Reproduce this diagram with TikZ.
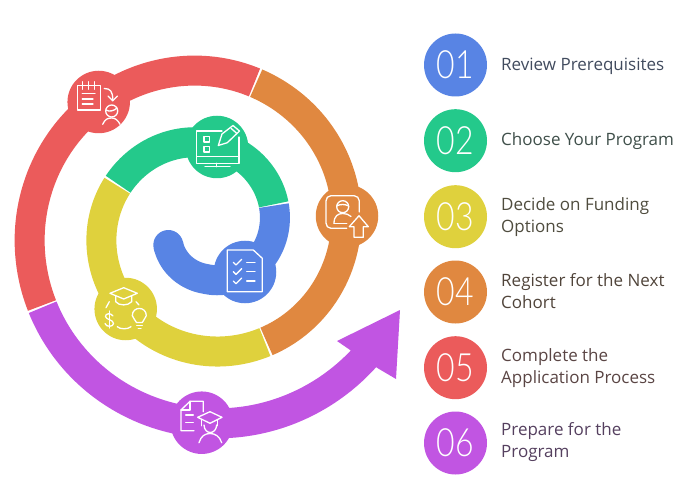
\documentclass[tikz,border=0pt]{standalone}
\usepackage{fontspec}
\setmainfont{Open Sans}
\newfontfamily\numfont[FakeStretch=0.82]{Lato Light}
\definecolor{stepblue}{HTML}{5884E4}
\definecolor{stepgreen}{HTML}{24C98B}
\definecolor{stepyellow}{HTML}{DFD13D}
\definecolor{steporange}{HTML}{E08840}
\definecolor{stepred}{HTML}{EB5B5B}
\definecolor{steppurple}{HTML}{C155E2}
\definecolor{textblue}{HTML}{414B5E}
\definecolor{textgreen}{HTML}{3F4F4A}
\definecolor{textyellow}{HTML}{4F4C3E}
\definecolor{textorange}{HTML}{50443A}
\definecolor{textred}{HTML}{5A4544}
\definecolor{textpurple}{HTML}{55405F}

\begin{document}
\begin{tikzpicture}[
		x=1pt, y=-1pt,
		declare function={sx(\t)=206+(68+.2*\t)*cos(\t); sy(\t)=229-(68+.2*\t)*sin(\t);
			hx(\t)=206+(68+.2*\t+.065*max(0,-90-\t))*cos(\t); hy(\t)=229-(68+.2*\t+.065*max(0,-90-\t))*sin(\t);},
		band/.style={line width=30pt, samples=70, smooth},
		badge/.style={circle, minimum size=62.5pt, inner sep=0pt},
		numdot/.style={circle, minimum size=63pt, inner sep=0pt, text=white, font=\numfont\fontsize{39}{39}\selectfont},
		steplabel/.style={anchor=west, align=left, inner sep=0pt, font=\fontsize{17}{22}\selectfont},
		icon/.style={draw=white, line width=1.3pt, line join=round, line cap=round}
	]

	\useasboundingbox (0,0) rectangle (692,502);

	\draw[band, stepblue, domain=-157:19] plot ({hx(\x)},{hy(\x)});
	\fill[stepblue] ({hx(-157)},{hy(-157)}) circle (15);
	\draw[band, stepgreen, domain=20:153] plot ({sx(\x)},{sy(\x)});
	\draw[band, stepyellow, domain=154:297.5] plot ({sx(\x)},{sy(\x)});
	\draw[band, steporange, domain=298.3:431] plot ({sx(\x)},{sy(\x)});
	\draw[band, stepred, domain=431.7:565] plot ({sx(\x)},{sy(\x)});
	\draw[band, steppurple, domain=565.6:682] plot ({sx(\x)},{sy(\x)});
	\fill[steppurple] (353,352) -- (337,341) -- (400,310) -- (396,379) -- (379,369) -- cycle;

	\node[badge, fill=stepblue] (iconblue) at (245,272) {};
	\node[badge, fill=stepgreen] (icongreen) at (217,147) {};
	\node[badge, fill=stepyellow] (iconyellow) at (125.7,309) {};
	\node[badge, fill=steporange] (iconorange) at (347,216) {};
	\node[badge, fill=stepred] (iconred) at (98.7,102) {};
	\node[badge, fill=steppurple] (iconpurple) at (201.7,422.7) {};

	\draw[icon] (227.3,250) -- (253.3,250) -- (262.3,258.3) -- (262.3,291.7) -- (227.3,291.7) -- cycle;
	\draw[icon] (233.3,262.3) -- (236,265) -- (241.7,259.3);
	\draw[icon] (233.3,271.7) -- (236,274.4) -- (241.7,268.7);
	\draw[icon] (233.3,281) -- (236,283.7) -- (241.7,278);
	\draw[icon] (246.7,262.3) -- (255,262.3);
	\draw[icon] (246.7,271.7) -- (255,271.7);
	\draw[icon] (246.7,281) -- (255,281);

	\draw[icon] (222,131) -- (196.7,131) -- (196.7,163.3) -- (239,163.3) -- (239,137);
	\draw[icon] (196.7,156.7) -- (239,156.7);
	\draw[icon] (216.7,163.3) -- (216.7,166.7);
	\draw[icon] (205,166.7) -- (230,166.7);
	\draw[icon] (204,136.7) rectangle (209.3,142);
	\draw[icon] (204,146.7) rectangle (209.3,152);
	\draw[icon] (218.3,145.5) -- (222,134) -- (233,125.5) -- (239.5,131) -- (227.3,142.7) -- cycle;
	\draw[icon] (231,128.3) -- (236.7,133.3);

	\draw[icon] (110,293.3) -- (123.7,287.7) -- (137.3,293.3) -- (123.7,299) -- cycle;
	\draw[icon] (115.7,296) -- (115.7,301.7) .. controls (119,306) and (128,306) .. (131.7,301.7) -- (131.7,296);
	\draw[icon] (106,307.7) -- (109.3,301.7);
	\draw[icon] (136,301.7) -- (139,305);
	\draw[icon] (113,316) .. controls (111,312.5) and (105,313.5) .. (105.5,316.5) .. controls (106,320) and (113.5,319.5) .. (113.5,323.5) .. controls (113.5,327) and (106,327.5) .. (105,323.5);
	\draw[icon] (109.3,311) -- (109.3,328);
	\draw[icon] (117.3,326.7) .. controls (120,329.5) and (128,329.5) .. (131,326.7);
	\draw[icon] (136.5,322.5) .. controls (136,319) and (132.3,319) .. (132.3,315.7) .. controls (132.3,306) and (146.3,306) .. (146.3,315.7) .. controls (146.3,319) and (142.6,319) .. (142.3,322.5) -- cycle;
	\draw[icon] (136.7,325.7) -- (142.3,325.7);
	\draw[icon] (138.3,328.3) -- (141,328.3);

	\draw[icon] (346.7,228.3) -- (331,228.3) .. controls (328,228.3) and (326,226) .. (326,223) -- (326,201) .. controls (326,198) and (328,195.7) .. (331,195.7) -- (354,195.7) .. controls (357,195.7) and (359.3,198) .. (359.3,201) -- (359.3,212);
	\draw[icon] (342.7,206.7) circle (6);
	\draw[icon] (336.7,206) .. controls (340,204) and (345,204) .. (348.7,206);
	\draw[icon] (334,223.3) .. controls (334,216) and (338,213.5) .. (342.7,213.5) .. controls (346,213.5) and (349,214.5) .. (351,216.5);
	\draw[icon] (334,223.3) -- (346.7,223.3);
	\draw[icon] (359,215.7) -- (349.3,226.7) -- (354,226.7) -- (354,237.3) -- (363.3,237.3) -- (363.3,226.7) -- (368.3,226.7) -- cycle;

	\draw[icon] (77.7,85.7) rectangle (100.3,110);
	\draw[icon] (82.3,81.7) -- (82.3,89.3);
	\draw[icon] (88.3,81.7) -- (88.3,89.3);
	\draw[icon] (94.3,81.7) -- (94.3,89.3);
	\draw[icon] (82.3,93.3) -- (95,93.3);
	\draw[icon] (82.3,99) -- (93,99);
	\draw[icon] (82.3,104) -- (93,104);
	\draw[icon] (104.3,88.5) .. controls (110,88.5) and (113,91) .. (112.7,100.5);
	\draw[icon] (108,96) -- (112.7,100.8) -- (117.5,96);
	\draw[icon] (111.7,111) circle (6);
	\draw[icon] (106,110) .. controls (109,112) and (114,111) .. (117,108);
	\draw[icon] (102.7,124.3) .. controls (105,119) and (108,118) .. (111.7,118) .. controls (115,118) and (118,120) .. (120,124.3);

	\draw[icon] (203.3,411.7) -- (203.3,401.3) -- (190,401.3) -- (181,410) -- (181,430.7) -- (194,430.7);
	\draw[icon] (190,401.3) -- (190,410) -- (181,410);
	\draw[icon] (185.7,415) -- (193.3,415);
	\draw[icon] (185.7,422.7) -- (193.3,422.7);
	\draw[icon] (197.7,417.3) -- (210,411.7) -- (222,417.3) -- (210,423.3) -- cycle;
	\draw[icon] (201.7,420) -- (201.7,425.7);
	\draw[icon] (217.3,420) -- (217.3,425.7);
	\draw[icon] (204,425) .. controls (204.5,435) and (216,435) .. (216.7,425);
	\draw[icon] (199,442.7) .. controls (201,436) and (205,433.5) .. (210,433.5) .. controls (215,433.5) and (219.5,436) .. (221.7,442.7);

	\node[numdot, fill=stepblue] (num1) at (455.5,65) {01};
	\node[numdot, fill=stepgreen] (num2) at (455.5,140.7) {02};
	\node[numdot, fill=stepyellow] (num3) at (455.5,216.7) {03};
	\node[numdot, fill=steporange] (num4) at (455.5,292) {04};
	\node[numdot, fill=stepred] (num5) at (455.5,367.7) {05};
	\node[numdot, fill=steppurple] (num6) at (455.5,443) {06};

	\node[steplabel, text=textblue] (label1) at (501,66) {Review Prerequisites};
	\node[steplabel, text=textgreen] (label2) at (501,141.5) {Choose Your Program};
	\node[steplabel, text=textyellow] (label3) at (501,216.7) {Decide on Funding\\Options};
	\node[steplabel, text=textorange] (label4) at (501,291.5) {Register for the Next\\Cohort};
	\node[steplabel, text=textred] (label5) at (501,367.7) {Complete the\\Application Process};
	\node[steplabel, text=textpurple] (label6) at (501,442.5) {Prepare for the\\Program};

\end{tikzpicture}
\end{document}
